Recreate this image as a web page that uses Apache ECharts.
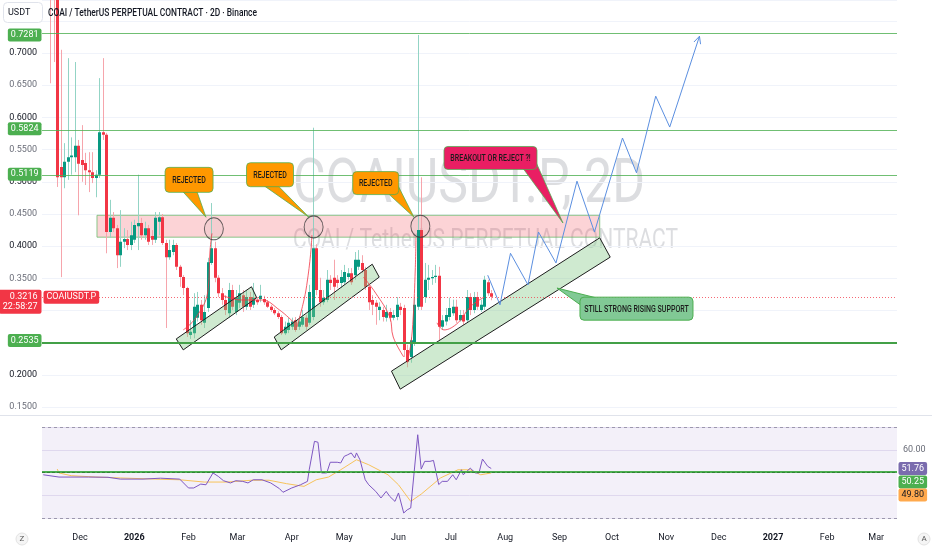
<!DOCTYPE html>
<html><head><meta charset="utf-8">
<script src="https://cdn.jsdelivr.net/npm/echarts@6/dist/echarts.min.js"></script>
<style>html,body{margin:0;padding:0;background:#fff}#c{width:932px;height:550px}</style>
</head><body><div id="c"></div>
<script>
// ---------------- data ----------------
const candleStart = '2025-11-14';   // first 2D candle
const candleStepDays = 2;
const open = [
0.800,0.790,0.790,0.523,0.507,0.531,0.538,0.538,0.556,0.534,
0.529,0.518,0.515,0.506,0.511,0.577,0.573,0.422,0.444,0.428,
0.386,0.407,0.411,0.402,0.410,0.431,0.436,0.417,0.428,0.416,
0.410,0.438,0.445,0.405,0.383,0.391,0.402,0.368,0.352,0.335,
0.262,0.265,0.289,0.309,0.281,0.304,0.374,0.397,0.351,0.327,
0.3165,0.296,0.332,0.298,0.312,0.324,0.306,0.321,0.309,0.3165,
0.318,0.318,0.313,0.306,0.301,0.296,0.290,0.265,0.270,0.275,
0.285,0.275,0.278,0.289,0.281,0.290,0.397,0.332,0.313,0.3165,
0.348,0.351,0.348,0.343,0.344,0.352,0.358,0.355,0.368,0.374,
0.363,0.337,0.3165,0.312,0.301,0.301,0.289,0.298,0.289,0.290,
0.306,0.304,0.239,0.228,0.250,0.306,0.425,0.321,0.348,0.351,
0.352,0.354,0.275,0.283,0.290,0.296,0.306,0.285,0.293,0.285,
0.321,0.301,0.321,0.301,0.306,0.344,0.327];
const close = [
0.785,0.786,0.507,0.507,0.531,0.538,0.541,0.556,0.528,0.526,
0.518,0.515,0.506,0.511,0.577,0.573,0.422,0.444,0.428,0.386,
0.407,0.411,0.402,0.417,0.433,0.436,0.417,0.428,0.407,0.410,
0.444,0.445,0.405,0.383,0.394,0.402,0.368,0.352,0.335,0.265,
0.267,0.306,0.309,0.285,0.298,0.375,0.397,0.351,0.327,0.3165,
0.301,0.332,0.306,0.320,0.327,0.306,0.321,0.306,0.320,0.313,
0.323,0.313,0.306,0.301,0.296,0.290,0.265,0.275,0.281,0.283,
0.270,0.283,0.290,0.275,0.329,0.397,0.332,0.313,0.320,0.348,
0.343,0.337,0.343,0.352,0.360,0.358,0.344,0.379,0.379,0.363,
0.337,0.313,0.309,0.306,0.306,0.290,0.298,0.289,0.293,0.309,
0.301,0.239,0.220,0.254,0.309,0.425,0.306,0.348,0.351,0.352,
0.354,0.275,0.285,0.293,0.304,0.306,0.285,0.293,0.283,0.321,
0.301,0.321,0.306,0.309,0.348,0.327,0.3216];
const low = [
0.653,0.686,0.492,0.352,0.490,0.503,0.511,0.515,0.448,0.500,
0.495,0.484,0.498,0.476,0.506,0.565,0.389,0.413,0.422,0.366,
0.368,0.397,0.394,0.394,0.405,0.394,0.410,0.410,0.402,0.402,
0.405,0.417,0.402,0.273,0.379,0.386,0.363,0.337,0.324,0.259,
0.256,0.257,0.283,0.278,0.273,0.298,0.371,0.344,0.321,0.309,
0.293,0.289,0.301,0.293,0.304,0.298,0.301,0.301,0.304,0.309,
0.313,0.309,0.304,0.298,0.293,0.287,0.262,0.262,0.265,0.270,
0.267,0.270,0.275,0.270,0.278,0.285,0.324,0.306,0.309,0.313,
0.332,0.3165,0.335,0.335,0.340,0.348,0.340,0.348,0.363,0.358,
0.332,0.301,0.293,0.278,0.285,0.283,0.283,0.283,0.285,0.285,
0.293,0.228,0.212,0.219,0.245,0.301,0.301,0.312,0.332,0.340,
0.343,0.254,0.270,0.277,0.285,0.292,0.281,0.283,0.278,0.281,
0.293,0.296,0.301,0.298,0.301,0.323,0.316];
const high = [
0.850,0.840,0.810,0.705,0.560,0.692,0.569,0.686,0.565,0.588,
0.545,0.546,0.546,0.518,0.661,0.692,0.576,0.472,0.453,0.433,
0.456,0.428,0.425,0.438,0.441,0.511,0.444,0.438,0.433,0.425,
0.453,0.453,0.450,0.410,0.410,0.410,0.405,0.371,0.355,0.337,
0.285,0.327,0.329,0.3165,0.324,0.382,0.467,0.407,0.355,0.335,
0.324,0.343,0.340,0.332,0.340,0.332,0.332,0.329,0.343,0.321,
0.340,0.323,0.3165,0.309,0.304,0.299,0.293,0.283,0.289,0.289,
0.290,0.291,0.301,0.293,0.340,0.584,0.403,0.351,0.332,0.363,
0.355,0.379,0.355,0.363,0.371,0.366,0.366,0.391,0.394,0.386,
0.368,0.340,0.324,0.3165,0.313,0.306,0.309,0.304,0.301,0.321,
0.312,0.309,0.247,0.259,0.320,0.728,0.507,0.374,0.371,0.363,
0.371,0.368,0.293,0.304,0.320,0.317,0.317,0.301,0.301,0.332,
0.327,0.329,0.329,0.317,0.354,0.348,0.332];

const priceTicks = [0.15, 0.7823, 0.05];          // min, max, step of price scale
const levels = [0.7281, 0.5824, 0.5119, 0.2535];  // drawn horizontal levels
const lastPrice = 0.3216;
const countdown = '22:58:27';
const zone = [['2025-12-10 17:00', 0.448], ['2026-09-24', 0.414]];
const channels = [
  [['2026-01-25', 0.256], ['2026-03-09', 0.337], ['2026-03-12', 0.320], ['2026-01-29', 0.239]],
  [['2026-03-22', 0.259], ['2026-05-17', 0.372], ['2026-05-21', 0.352], ['2026-03-26', 0.239]],
  [['2026-05-28', 0.206], ['2026-09-24', 0.413], ['2026-09-30', 0.383], ['2026-06-02', 0.178]]
];
const circles = [['2026-02-15 12:00', 0.427], ['2026-04-13 12:00', 0.430], ['2026-06-13 12:00', 0.431]];
const projection = [
  ['2026-07-22', 0.355], ['2026-07-29', 0.309], ['2026-08-04', 0.389], ['2026-08-14', 0.340],
  ['2026-08-20', 0.422], ['2026-08-30', 0.374], ['2026-09-11', 0.501], ['2026-09-21', 0.422],
  ['2026-10-07', 0.568], ['2026-10-15', 0.514], ['2026-10-26', 0.633], ['2026-11-03', 0.585],
  ['2026-11-20', 0.726]
];
// freehand red paths drawn on the chart
const pathA = [['2026-01-29', 0.270], ['2026-02-05', 0.288], ['2026-02-12', 0.329], ['2026-02-13 08:00', 0.394], ['2026-02-14 10:00', 0.420]];
const pathB = [['2026-02-20', 0.324], ['2026-03-03', 0.3165], ['2026-03-15', 0.3165], ['2026-03-25', 0.301], ['2026-04-02', 0.282]];
const pathC = [['2026-04-04', 0.2745], ['2026-04-08', 0.3165], ['2026-04-10', 0.3475], ['2026-04-12', 0.394], ['2026-04-12 12:00', 0.417]];
const pathD = [['2026-05-12', 0.352], ['2026-05-19', 0.327], ['2026-05-27', 0.290], ['2026-05-29', 0.259], ['2026-06-04', 0.228]];
const pathE = [['2026-06-05 22:00', 0.219], ['2026-06-08', 0.247], ['2026-06-09 10:00', 0.290], ['2026-06-10 14:00', 0.363], ['2026-06-11', 0.414]];
const pathF = [['2026-06-23', 0.281], ['2026-06-27', 0.270], ['2026-07-05', 0.281], ['2026-07-12', 0.306], ['2026-07-20', 0.321]];

const calloutTexts = ['REJECTED', 'REJECTED', 'REJECTED', 'BREAKOUT OR REJECT ?!', 'STILL STRONG RISING SUPPORT'];
const calloutAt = [['2026-02-01 08:00', 0.503], ['2026-03-19 14:00', 0.511], ['2026-05-19', 0.498],
                   ['2026-07-23 14:00', 0.537], ['2026-10-15', 0.303]];
const calloutTip = [['2026-02-11', 0.445], ['2026-04-10 21:00', 0.445], ['2026-06-09 21:00', 0.445],
                    ['2026-09-03', 0.436], ['2026-08-30 14:00', 0.335]];

const rsi = [
['2025-11-10',49.0],['2025-11-19',48.0],['2025-12-06',48.0],['2025-12-17',47.9],['2025-12-24',47.1],
['2026-01-06',47.1],['2026-01-16',47.5],['2026-01-27',47.1],['2026-02-01',43.2],['2026-02-04',43.2],
['2026-02-08',44.9],['2026-02-11',44.6],['2026-02-15',49.8],['2026-02-18',48.3],['2026-02-21',46.4],
['2026-02-25',45.4],['2026-02-28',46.4],['2026-03-04',46.1],['2026-03-07',45.4],['2026-03-10',46.8],
['2026-03-15',46.8],['2026-03-20',45.4],['2026-03-25',42.9],['2026-03-27',41.3],['2026-04-01',43.2],
['2026-04-06',44.6],['2026-04-10',46.1],['2026-04-11',51.2],['2026-04-14',63.7],['2026-04-16',63.3],
['2026-04-18',49.8],['2026-04-21',49.8],['2026-04-23',54.5],['2026-04-27',54.5],['2026-04-29',54.2],
['2026-05-01',57.1],['2026-05-03',57.8],['2026-05-05',58.6],['2026-05-07',56.4],['2026-05-08',58.6],
['2026-05-10',55.6],['2026-05-13',46.8],['2026-05-15',44.6],['2026-05-19',41.7],['2026-05-22',38.8],
['2026-05-25',41.7],['2026-05-27',39.5],['2026-05-30',37.3],['2026-06-01',41.0],['2026-06-04',32.2],
['2026-06-06',33.6],['2026-06-08',34.4],['2026-06-12',66.6],['2026-06-14',51.5],['2026-06-16',54.9],
['2026-06-19',54.9],['2026-06-21',55.3],['2026-06-24',44.7],['2026-06-26',46.1],['2026-06-29',46.1],
['2026-07-02',49.0],['2026-07-04',46.8],['2026-07-07',51.2],['2026-07-08',49.0],['2026-07-12',51.9],
['2026-07-15',49.8],['2026-07-17',49.8],['2026-07-19',55.9],['2026-07-22',52.7],['2026-07-24',51.76]];
const rsiMa = [
['2025-11-18',51.5],['2025-11-19',49.8],['2025-11-26',48.6],['2025-12-10',48.0],['2025-12-24',47.6],
['2026-01-13',47.1],['2026-01-27',46.8],['2026-02-10',45.8],['2026-02-23',45.8],['2026-03-09',46.6],
['2026-03-19',46.6],['2026-03-29',45.1],['2026-04-08',43.9],['2026-04-15',46.8],['2026-04-22',48.0],
['2026-04-29',51.2],['2026-05-08',55.6],['2026-05-15',53.4],['2026-05-26',49.0],['2026-06-01',44.6],
['2026-06-08',37.3],['2026-06-14',40.5],['2026-06-25',47.6],['2026-07-05',51.2],['2026-07-12',51.2],
['2026-07-18',49.0],['2026-07-24',49.8]];
const rsiLevel = 50.25;
const rsiLast = 51.76, rsiMaLast = 49.80;
const rsiTicks = [30, 70, 10];
const xRange = ['2025-11-09 07:00', '2027-03-12 21:00'];

// ---------------- helpers ----------------
const FONT = 'Roboto, "Liberation Sans", Arial, sans-serif';
function T(s) {
  const [d, tm] = s.split(' ');
  const [y, m, dd] = d.split('-').map(Number);
  const [hh, mi] = (tm || '0:0').split(':').map(Number);
  return new Date(y, m - 1, dd, hh, mi).getTime();
}
const DAY = 86400000;
const t0 = T(candleStart);
const candles = open.map((o, i) => [t0 + i * candleStepDays * DAY, o, close[i], low[i], high[i]]);
const xMin = T(xRange[0]), xMax = T(xRange[1]);
const ctx = document.createElement('canvas').getContext('2d');
function textW(text, font) { ctx.font = font; return ctx.measureText(text).width; }

const UP = '#089981', DN = '#f23645', UPW = '#93d4c5', DNW = '#f6a5ac';

function renderCandle(params, api) {
  const t = api.value(0), o = api.value(1), c = api.value(2), l = api.value(3), h = api.value(4);
  const po = api.coord([t, o]), pc = api.coord([t, c]), pl = api.coord([t, l]), ph = api.coord([t, h]);
  const up = c >= o;
  const x = Math.round(po[0]) + 0.5;
  let y0 = Math.min(po[1], pc[1]), y1 = Math.max(po[1], pc[1]);
  if (y1 - y0 < 1.2) y1 = y0 + 1.2;
  return { type: 'group', children: [
    { type: 'line', shape: { x1: x, y1: ph[1], x2: x, y2: pl[1] }, style: { stroke: up ? UPW : DNW, lineWidth: 1 } },
    { type: 'rect', shape: { x: x - 1.5, y: y0, width: 3, height: y1 - y0 }, style: { fill: up ? UP : DN } }
  ]};
}

const calloutLook = [
  { fill: '#ff9800', stroke: 'rgba(76,175,80,0.75)', w: 48, h: 25, base: [[-6, 12], [8, 12]] },
  { fill: '#ff9800', stroke: 'rgba(76,175,80,0.75)', w: 47, h: 24, base: [[-6, 11], [8, 11]] },
  { fill: '#ff9800', stroke: 'rgba(76,175,80,0.75)', w: 46, h: 23, base: [[13, 11], [22, 2]] },
  { fill: '#e91e63', stroke: 'rgba(76,175,80,0.75)', w: 93, h: 23, base: [[33, 11], [45, 3]] },
  { fill: '#81c995', stroke: '#4caf50', w: 113, h: 23, base: [[-55, -3], [-41, -11]] }
];
function renderCallout(params, api) {
  const i = params.dataIndex, s = calloutLook[i];
  const c = api.coord([T(calloutAt[i][0]), calloutAt[i][1]]);
  const tp = api.coord([T(calloutTip[i][0]), calloutTip[i][1]]);
  return { type: 'group', children: [
    { type: 'polygon', shape: { points: [tp, [c[0] + s.base[0][0], c[1] + s.base[0][1]], [c[0] + s.base[1][0], c[1] + s.base[1][1]]] },
      style: { fill: s.fill, stroke: s.stroke, lineWidth: 1 } },
    { type: 'rect', shape: { x: c[0] - s.w / 2, y: c[1] - s.h / 2, width: s.w, height: s.h, r: 4 },
      style: { fill: s.fill, stroke: s.stroke, lineWidth: 1 } },
    { type: 'text', x: c[0], y: c[1] + 0.5, scaleX: 0.74,
      style: { text: calloutTexts[i], font: '500 9.5px ' + FONT, fill: '#1b1b1b', align: 'center', verticalAlign: 'middle' } }
  ]};
}
function renderChannel(params, api) {
  const pts = channels[params.dataIndex].map(p => api.coord([T(p[0]), p[1]]));
  return { type: 'polygon', shape: { points: pts }, style: { fill: 'rgba(129,199,132,0.38)', stroke: '#1e1e1e', lineWidth: 1 } };
}
function renderArrow(params, api) {
  const n = projection.length;
  const a = api.coord([T(projection[n - 2][0]), projection[n - 2][1]]);
  const b = api.coord([T(projection[n - 1][0]), projection[n - 1][1]]);
  const ang = Math.atan2(b[1] - a[1], b[0] - a[0]);
  const L = 8, sp = 0.45;
  const p1 = [b[0] - L * Math.cos(ang - sp), b[1] - L * Math.sin(ang - sp)];
  const p2 = [b[0] - L * Math.cos(ang + sp), b[1] - L * Math.sin(ang + sp)];
  return { type: 'polyline', shape: { points: [p1, b, p2] }, style: { stroke: '#5b8fe0', lineWidth: 1, fill: null } };
}

const fmtPrice = v => {
  const r = v / priceTicks[2];
  if (Math.abs(r - Math.round(r)) > 1e-6) return '';
  const s = v.toFixed(4);
  return Math.abs(v * 10 - Math.round(v * 10)) < 1e-6 ? '{a|' + s + '}' : '{b|' + s + '}';
};
const boxLabel = (txt, bg, fg) => ({ show: true, formatter: txt, backgroundColor: bg, color: fg, fontSize: 9,
  fontFamily: FONT, padding: [2, 3, 1, 3], lineHeight: 10, borderRadius: 2 });
const pathSeries = p => ({ type: 'line', xAxisIndex: 0, yAxisIndex: 0, z: 4, silent: true, symbol: 'none', smooth: 0.4,
  lineStyle: { color: 'rgba(242,54,69,0.8)', width: 1 }, data: p.map(q => [T(q[0]), q[1]]) });

const bigWM = 'COAIUSDT.P, 2D', smallWM = 'COAI / TetherUS PERPETUAL CONTRACT';
const bigFont = '62px ' + FONT, smallFont = '27px ' + FONT;
const titleText = 'COAI / TetherUS PERPETUAL CONTRACT · 2D · Binance', titleFont = '500 10px ' + FONT;

const option = {
  animation: false,
  backgroundColor: '#ffffff',
  grid: [
    { left: 42, width: 855, top: 0, height: 407.2 },
    { left: 42, width: 855, top: 427, height: 91 }
  ],
  xAxis: [
    { type: 'time', gridIndex: 0, min: xMin, max: xMax, axisLabel: { show: false }, axisLine: { show: false },
      axisTick: { show: false }, splitLine: { show: false } },
    { type: 'time', gridIndex: 1, min: xMin, max: xMax, splitNumber: 16, minInterval: 28 * DAY, maxInterval: 31 * DAY,
      axisLine: { show: false }, axisTick: { show: false }, splitLine: { show: false },
      axisLabel: { color: '#131722', fontSize: 9, fontFamily: FONT, margin: 15, showMinLabel: false, showMaxLabel: false,
        rich: { primary: { fontWeight: 'bold', fontSize: 9, color: '#131722' } } } }
  ],
  yAxis: [
    { type: 'value', gridIndex: 0, position: 'left', min: priceTicks[0], max: priceTicks[1], interval: priceTicks[2],
      axisLine: { show: false }, axisTick: { show: false },
      splitLine: { show: true, lineStyle: { color: '#f0f3fa', width: 1 } },
      axisLabel: { margin: 5, formatter: fmtPrice, fontFamily: FONT, showMaxLabel: false,
        rich: { a: { color: '#131722', fontSize: 9, fontFamily: FONT }, b: { color: '#6a6d78', fontSize: 9, fontFamily: FONT } } } },
    { type: 'value', gridIndex: 1, position: 'right', min: rsiTicks[0], max: rsiTicks[1], interval: rsiTicks[2],
      axisLine: { show: false }, axisTick: { show: false },
      splitLine: { show: true, lineStyle: { color: '#e9e5f3', width: 1 } },
      axisLabel: { margin: 6, color: '#6a6d78', fontSize: 9, fontFamily: FONT, formatter: v => v === 60 ? '60.00' : '' } }
  ],
  series: [
    { // levels host
      type: 'line', xAxisIndex: 0, yAxisIndex: 0, z: 1, silent: true, symbol: 'none',
      data: [[xMin, lastPrice]], lineStyle: { opacity: 0 },
      markArea: { silent: true, z: 1, itemStyle: { color: 'rgba(242,54,69,0.22)', borderColor: 'rgba(102,187,106,0.75)', borderWidth: 1 },
        data: [[{ coord: [T(zone[0][0]), zone[0][1]] }, { coord: [T(zone[1][0]), zone[1][1]] }]] },
      markLine: { silent: true, symbol: 'none', label: { show: false },
        data: [
          { yAxis: levels[0], lineStyle: { color: 'rgba(76,175,80,0.8)', width: 1, type: 'solid' } },
          { yAxis: levels[1], lineStyle: { color: 'rgba(76,175,80,0.8)', width: 1, type: 'solid' } },
          { yAxis: levels[2], lineStyle: { color: 'rgba(76,175,80,0.8)', width: 1, type: 'solid' } },
          { yAxis: levels[3], lineStyle: { color: '#43a047', width: 2, type: 'solid' } },
          { yAxis: lastPrice, lineStyle: { color: 'rgba(242,54,69,0.75)', width: 1, type: [1, 2] } }
        ] },
      markPoint: { silent: true, symbol: 'circle', symbolSize: 1, itemStyle: { color: 'rgba(0,0,0,0)' },
        data: [
          ...levels.map(v => ({ coord: [xMin, v], label: Object.assign(boxLabel(v.toFixed(4), '#4caf50', '#fff'), { position: 'left', distance: 0 }) })),
          { coord: [xMin, lastPrice], label: Object.assign(boxLabel(lastPrice.toFixed(4) + '\n' + countdown, '#f23645', '#fff'),
              { position: 'left', distance: 0, offset: [0, 5], padding: [2, 4, 1, 4], lineHeight: 10.5 }) },
          { coord: [xMin, lastPrice], label: Object.assign(boxLabel('COAIUSDT.P', '#f23645', '#fff'), { position: 'right', distance: 1, offset: [0, 0.5] }) }
        ] }
    },
    { type: 'custom', name: 'COAIUSDT.P', xAxisIndex: 0, yAxisIndex: 0, z: 3, clip: true, silent: true,
      renderItem: renderCandle, encode: { x: 0, y: [1, 2, 3, 4] }, data: candles },
    pathSeries(pathA), pathSeries(pathB), pathSeries(pathC), pathSeries(pathD), pathSeries(pathE), pathSeries(pathF),
    { type: 'custom', xAxisIndex: 0, yAxisIndex: 0, z: 4, silent: true, renderItem: renderChannel,
      data: channels.map(c => [T(c[0][0]), c[0][1]]) },
    { type: 'line', xAxisIndex: 0, yAxisIndex: 0, z: 5, silent: true, symbol: 'none',
      lineStyle: { color: '#5b8fe0', width: 1 }, data: projection.map(p => [T(p[0]), p[1]]) },
    { type: 'custom', xAxisIndex: 0, yAxisIndex: 0, z: 5, silent: true, renderItem: renderArrow,
      data: [[T(projection[projection.length - 1][0]), projection[projection.length - 1][1]]] },
    { type: 'scatter', xAxisIndex: 0, yAxisIndex: 0, z: 6, silent: true, symbol: 'circle', symbolSize: [19, 22],
      itemStyle: { color: 'rgba(120,120,120,0.08)', borderColor: '#3a3a3a', borderWidth: 1 },
      data: circles.map(c => [T(c[0]), c[1]]) },
    { type: 'custom', xAxisIndex: 0, yAxisIndex: 0, z: 7, silent: true, renderItem: renderCallout,
      data: calloutAt.map(c => [T(c[0]), c[1]]) },
    // RSI pane
    { type: 'line', xAxisIndex: 1, yAxisIndex: 1, z: 1, silent: true, symbol: 'none', data: [[xMin, 50]], lineStyle: { opacity: 0 },
      markArea: { silent: true, itemStyle: { color: 'rgba(126,87,194,0.09)' }, data: [[{ yAxis: 30 }, { yAxis: 70 }]] },
      markLine: { silent: true, symbol: 'none', label: { show: false },
        data: [
          { yAxis: 70, lineStyle: { color: '#9b97ad', width: 1, type: [3, 3] } },
          { yAxis: 30, lineStyle: { color: '#9b97ad', width: 1, type: [3, 3] } },
          { yAxis: rsiLevel, lineStyle: { color: '#4caf50', width: 2, type: 'solid' } },
          { yAxis: 50, lineStyle: { color: 'rgba(27,94,32,0.55)', width: 1, type: [3, 2] } }
        ] } },
    { type: 'line', name: 'RSI-MA', xAxisIndex: 1, yAxisIndex: 1, z: 3, silent: true, symbol: 'none',
      lineStyle: { color: '#f7c35a', width: 1 }, data: rsiMa.map(p => [T(p[0]), p[1]]) },
    { type: 'line', name: 'RSI', xAxisIndex: 1, yAxisIndex: 1, z: 4, silent: true, symbol: 'none',
      lineStyle: { color: '#7e57c2', width: 1 }, data: rsi.map(p => [T(p[0]), p[1]]),
      markPoint: { silent: true, symbol: 'circle', symbolSize: 1, itemStyle: { color: 'rgba(0,0,0,0)' },
        data: [
          { coord: [xMax, rsiLast], label: Object.assign(boxLabel(rsiLast.toFixed(2), '#7a6cae', '#fff'), { position: 'right', distance: 1, offset: [0, 0] }) },
          { coord: [xMax, rsiLevel], label: Object.assign(boxLabel(rsiLevel.toFixed(2), '#4caf50', '#fff'), { position: 'right', distance: 1, offset: [0, 10] }) },
          { coord: [xMax, rsiMaLast], label: Object.assign(boxLabel(rsiMaLast.toFixed(2), '#ffa94d', '#131722'), { position: 'right', distance: 1, offset: [0, 22] }) }
        ] } }
  ],
  graphic: [
    { type: 'text', x: 293, y: 186, scaleX: 352 / textW(bigWM, bigFont), silent: true, z: 0,
      style: { text: bigWM, font: bigFont, fill: 'rgba(150,153,160,0.33)', align: 'left', verticalAlign: 'middle' } },
    { type: 'text', x: 293, y: 241, scaleX: 385 / textW(smallWM, smallFont), silent: true, z: 0,
      style: { text: smallWM, font: smallFont, fill: 'rgba(150,153,160,0.33)', align: 'left', verticalAlign: 'middle' } },
    { type: 'line', shape: { x1: 0, y1: 415.5, x2: 932, y2: 415.5 }, style: { stroke: '#e0e3eb', lineWidth: 1 }, silent: true, z: 10 },
    { type: 'rect', shape: { x: 3.5, y: 2.5, width: 39, height: 20, r: 4 }, style: { fill: '#fff', stroke: '#e0e3eb', lineWidth: 1 }, z: 20, silent: true },
    { type: 'text', x: 8, y: 13, silent: true, z: 21, style: { text: 'USDT', font: '9px ' + FONT, fill: '#131722', align: 'left', verticalAlign: 'middle' } },
    { type: 'text', x: 48, y: 13, scaleX: 209 / textW(titleText, titleFont), silent: true, z: 21,
      style: { text: titleText, font: titleFont, fill: '#131722', align: 'left', verticalAlign: 'middle' } },
    { type: 'circle', shape: { cx: 22, cy: 539, r: 6 }, style: { fill: '#f5f5f5', stroke: '#e3e3e3' }, silent: true, z: 20 },
    { type: 'text', x: 22, y: 539, silent: true, z: 21, style: { text: 'Z', font: '8px ' + FONT, fill: '#555', align: 'center', verticalAlign: 'middle' } },
    { type: 'circle', shape: { cx: 924, cy: 539, r: 6 }, style: { fill: '#f5f5f5', stroke: '#e3e3e3' }, silent: true, z: 20 },
    { type: 'text', x: 924, y: 539, silent: true, z: 21, style: { text: 'A', font: '8px ' + FONT, fill: '#555', align: 'center', verticalAlign: 'middle' } }
  ]
};
const chart = echarts.init(document.getElementById('c'));
chart.setOption(option);
</script></body></html>
